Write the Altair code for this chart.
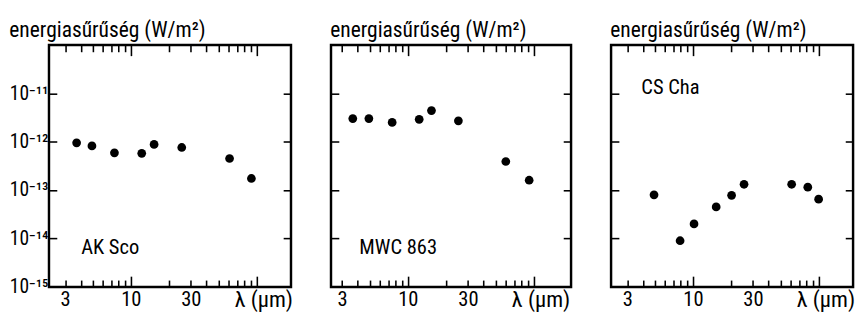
import altair as alt
import pandas as pd

# ---- data ----
ak_x = [3.7, 4.9, 7.4, 12.2, 15.3, 25.4, 61, 91]
ak_y = [9.5e-13, 8.2e-13, 5.9e-13, 5.75e-13, 8.8e-13, 7.6e-13, 4.5e-13, 1.74e-13]
mwc_x = [3.65, 4.9, 7.5, 12.3, 15.4, 25.2, 60, 92]
mwc_y = [3.0e-12, 3.0e-12, 2.5e-12, 2.9e-12, 4.4e-12, 2.7e-12, 3.9e-13, 1.6e-13]
cs_x = [4.9, 7.9, 10.2, 15.3, 20.3, 25.5, 61, 82, 100]
cs_y = [8.0e-14, 9.0e-15, 2.0e-14, 4.5e-14, 7.8e-14, 1.32e-13, 1.32e-13, 1.15e-13, 6.5e-14]

names = ["AK Sco", "MWC 863", "CS Cha"]
x_domains = [[2.23, 188], [2.45, 198], [2.23, 188]]
y_domain = [1e-15, 1e-10]
x_label_values = [3, 10, 30, 100]
x_tick_values = [3, 4, 5, 6, 7, 8, 9, 10, 20, 30, 40, 50, 60, 70, 80, 90, 100]
y_tick_values = [1e-14, 1e-13, 1e-12, 1e-11]
y_label_values = [1e-15, 1e-14, 1e-13, 1e-12, 1e-11]
y_labels = ["10⁻¹⁵", "10⁻¹⁴", "10⁻¹³", "10⁻¹²", "10⁻¹¹"]
title_text = "energiasűrűség (W/m²)"
x_unit_label = "λ (μm)"

FONT = "Roboto Condensed"
WIDTHS = [248, 246, 248]
H = 248

# y label expression built from the arrays
expr = "''"
for v, lab in reversed(list(zip(y_label_values, y_labels))):
    expr = f"datum.value < {v * 3} ? '{lab}' : ({expr})"
y_label_expr = expr
x_label_expr = f"datum.value == 100 ? '{x_unit_label}' : '' + datum.value"

major = "datum.value == 10 || datum.value == 100"
xtick_size = {"condition": {"test": major, "value": 11}, "value": 7}
is_unit = "datum.value == 100"

# annotation placement as fraction of the panel (x, y of text baseline)
name_pos = [(0.133, 0.863), (0.117, 0.863), (0.125, 0.20)]


def panel(i, xs, ys, show_y_labels):
    W = WIDTHS[i]
    df = pd.DataFrame({"x": xs, "y": ys})
    xsc = alt.Scale(type="log", domain=x_domains[i], nice=False)
    ysc = alt.Scale(type="log", domain=y_domain, nice=False)
    base = alt.Chart(df)

    if show_y_labels:
        yaxis = alt.Axis(orient="left", values=y_label_values, ticks=False, domain=False,
                         grid=False, labelExpr=y_label_expr, labelFontSize=20,
                         labelPadding=1)
    else:
        yaxis = None

    pts = base.mark_circle(size=80, color="black", opacity=1).encode(
        x=alt.X("x:Q", scale=xsc, title=None,
                axis=alt.Axis(orient="bottom", values=x_label_values, ticks=False,
                              domain=False, grid=False, labelExpr=x_label_expr,
                              labelFontSize={"condition": {"test": is_unit, "value": 23}, "value": 21},
                              labelPadding=2, labelFlush=False,
                              labelOffset={"condition": {"test": is_unit, "value": 7}, "value": 0})),
        y=alt.Y("y:Q", scale=ysc, title=None, axis=yaxis),
    )
    # inward ticks on bottom and left edges
    t1 = base.mark_circle(opacity=0).encode(
        x=alt.X("x:Q", scale=xsc, title=None,
                axis=alt.Axis(orient="top", offset=-H, values=x_tick_values, labels=False,
                              domain=False, grid=False, tickSize=xtick_size,
                              tickColor="black", tickWidth=1.6)),
        y=alt.Y("y:Q", scale=ysc, title=None,
                axis=alt.Axis(orient="right", offset=-W, values=y_tick_values, labels=False,
                              domain=False, grid=False, tickSize=8,
                              tickColor="black", tickWidth=1.6)),
    )
    # inward ticks on top and right edges
    t2 = base.mark_circle(opacity=0).encode(
        x=alt.X("x:Q", scale=xsc, title=None,
                axis=alt.Axis(orient="bottom", offset=-H, values=x_tick_values, labels=False,
                              domain=False, grid=False, tickSize=xtick_size,
                              tickColor="black", tickWidth=1.6)),
        y=alt.Y("y:Q", scale=ysc, title=None,
                axis=alt.Axis(orient="left", offset=-W, values=y_tick_values, labels=False,
                              domain=False, grid=False, tickSize=8,
                              tickColor="black", tickWidth=1.6)),
    )
    fx, fy = name_pos[i]
    txt = alt.Chart(pd.DataFrame({"name": [names[i]]})).mark_text(
        align="left", baseline="alphabetic", fontSize=21, font=FONT, color="black"
    ).encode(text="name:N", x=alt.value(round(fx * W)), y=alt.value(round(fy * H)))

    return alt.layer(pts, t1, t2, txt).resolve_axis(x="independent", y="independent").properties(
        width=W, height=H,
        title=alt.TitleParams(title_text, anchor="start", frame="bounds", fontSize=22,
                              fontWeight="normal", font=FONT, color="black", offset=2),
    )


chart = alt.hconcat(
    panel(0, ak_x, ak_y, True),
    panel(1, mwc_x, mwc_y, False),
    panel(2, cs_x, cs_y, False),
    spacing=35,
).properties(
    padding={"left": 0, "top": 6, "right": 0, "bottom": 0},
).configure_view(
    stroke="black", strokeWidth=2.5
).configure_axis(
    labelFont=FONT, labelColor="black", tickColor="black"
)

chart.save("out.html", embed_options={"renderer": "svg", "actions": False})
